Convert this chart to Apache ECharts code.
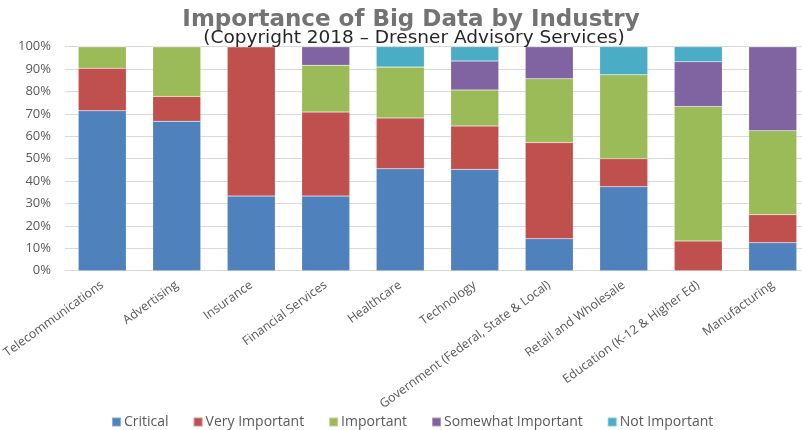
<!DOCTYPE html>
<html>
<head>
<meta charset="utf-8">
<script src="https://cdn.jsdelivr.net/npm/echarts@6/dist/echarts.min.js"></script>
<style>html,body{margin:0;padding:0;background:#fff}#c{width:802px;height:430px}</style>
</head>
<body>
<div id="c"></div>
<script>
var categories = ['Telecommunications','Advertising','Insurance','Financial Services','Healthcare','Technology','Government (Federal, State & Local)','Retail and Wholesale','Education (K-12 & Higher Ed)','Manufacturing'];
var seriesNames = ['Critical','Very Important','Important','Somewhat Important','Not Important'];
var critical          = [71.4, 66.7, 33.3, 33.3, 45.5, 45.2, 14.3, 37.5,  0.0, 12.5];
var veryImportant     = [19.0, 11.1, 66.7, 37.5, 22.7, 19.4, 42.9, 12.5, 13.3, 12.5];
var important         = [ 9.6, 22.2,  0.0, 20.9, 22.7, 16.1, 28.5, 37.5, 60.0, 37.5];
var somewhatImportant = [ 0.0,  0.0,  0.0,  8.3,  0.0, 12.9, 14.3,  0.0, 20.0, 37.5];
var notImportant      = [ 0.0,  0.0,  0.0,  0.0,  9.1,  6.4,  0.0, 12.5,  6.7,  0.0];
var yTicks = [0,10,20,30,40,50,60,70,80,90,100];
var colors = ['#4f81bd','#c0504d','#9bbb59','#8064a2','#4bacc6'];

var values = [critical, veryImportant, important, somewhatImportant, notImportant];
var chart = echarts.init(document.getElementById('c'));
chart.setOption({
  animation: false,
  color: colors,
  title: [
    {text: 'Importance of Big Data by Industry', left: 406, top: 4, textAlign: 'center',
     textStyle: {fontFamily: 'DejaVu Sans', fontWeight: 'bold', fontSize: 23, color: '#737373'}},
    {text: '(Copyright 2018 \u2013 Dresner Advisory Services)', left: 409, top: 24, textAlign: 'center',
     textStyle: {fontFamily: 'DejaVu Sans', fontWeight: 'normal', fontSize: 18.5, color: '#262626'}}
  ],
  legend: {
    bottom: -4, left: 106, itemWidth: 9, itemHeight: 9, itemGap: 24,
    icon: 'rect',
    textStyle: {fontFamily: 'Open Sans', fontSize: 14, color: '#595959', padding: [0,0,0,-2]},
    data: seriesNames
  },
  grid: {left: 65, top: 46.7, width: 745, height: 224, containLabel: false, outerBoundsMode: 'none'},
  xAxis: {
    type: 'category', data: categories,
    axisLine: {show: true, lineStyle: {color: '#d9d9d9'}},
    axisTick: {show: false},
    axisLabel: {rotate: 36, interval: 0, margin: 13, fontFamily: 'Open Sans', fontSize: 12.4, color: '#595959'}
  },
  yAxis: {
    type: 'value', min: 0, max: 100, interval: 10,
    axisLine: {show: false}, axisTick: {show: false},
    splitLine: {lineStyle: {color: '#d9d9d9'}},
    axisLabel: {margin: 14, fontFamily: 'Open Sans', fontSize: 13, color: '#595959',
      formatter: function(v){ return yTicks.indexOf(v) >= 0 ? v + '%' : ''; }}
  },
  series: seriesNames.map(function(n, i){
    return {name: n, type: 'bar', stack: 'total', barWidth: 48, data: values[i],
      itemStyle: {borderColor: 'rgba(255,255,255,0.35)', borderWidth: 0.5}};
  })
});
</script>
</body>
</html>
